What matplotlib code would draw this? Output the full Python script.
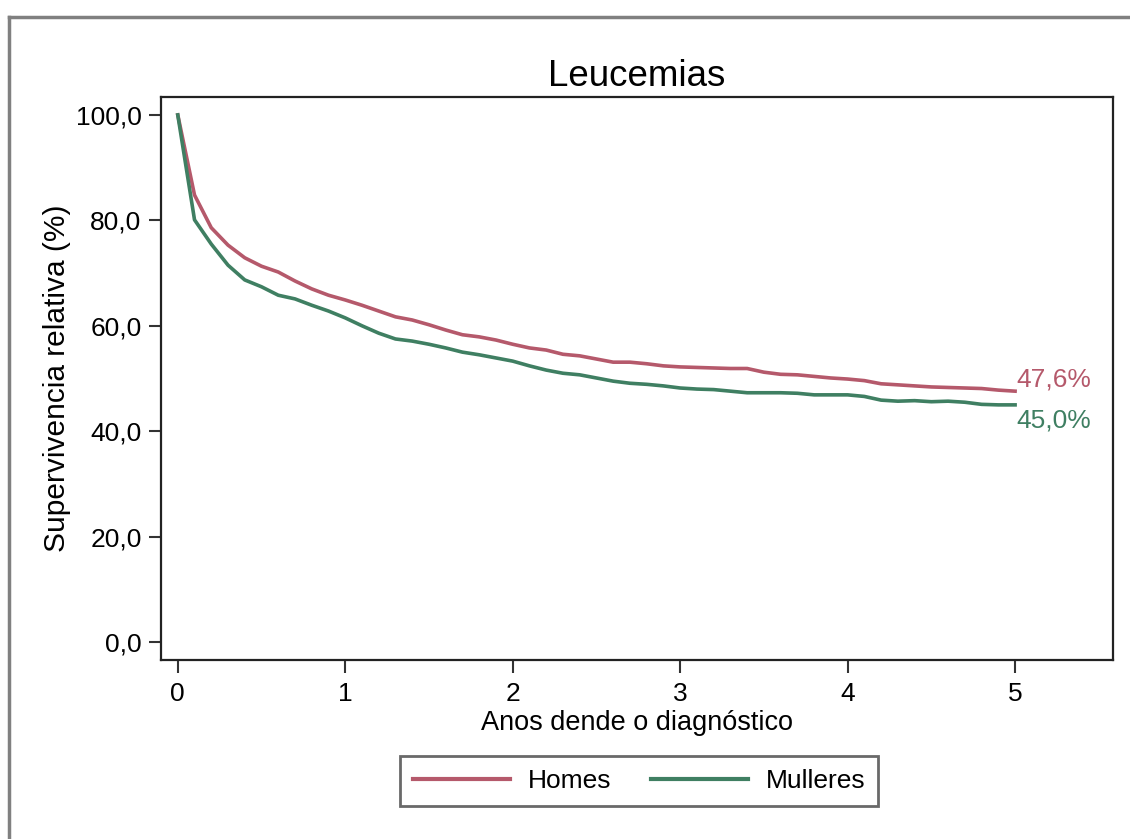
import matplotlib
matplotlib.use("Agg")
import matplotlib.pyplot as plt
from matplotlib.lines import Line2D

plt.rcParams["font.family"] = ["Liberation Sans", "DejaVu Sans"]

# years since diagnosis, 0.1-year steps
years = [i / 10 for i in range(51)]

homes = [100.0, 84.8, 78.6, 75.3, 72.9, 71.3, 70.2, 68.5, 67.0, 65.8,
         64.9, 63.9, 62.8, 61.7, 61.1, 60.2, 59.2, 58.3, 57.9, 57.3,
         56.5, 55.8, 55.4, 54.6, 54.3, 53.7, 53.1, 53.1, 52.8, 52.4,
         52.2, 52.1, 52.0, 51.9, 51.9, 51.2, 50.8, 50.7, 50.4, 50.1,
         49.9, 49.6, 49.0, 48.8, 48.6, 48.4, 48.3, 48.2, 48.1, 47.8,
         47.6]
mulleres = [100.0, 80.1, 75.5, 71.5, 68.7, 67.4, 65.8, 65.1, 63.9, 62.8,
            61.5, 60.0, 58.6, 57.5, 57.1, 56.5, 55.8, 55.0, 54.5, 53.9,
            53.3, 52.4, 51.6, 51.0, 50.7, 50.1, 49.5, 49.1, 48.9, 48.6,
            48.2, 48.0, 47.9, 47.6, 47.3, 47.3, 47.3, 47.2, 46.9, 46.9,
            46.9, 46.6, 45.9, 45.7, 45.8, 45.6, 45.7, 45.5, 45.1, 45.0,
            45.0]

series_names = ["Homes", "Mulleres"]
colors = ["#b5596b", "#3f7f62"]
end_labels = ["47,6%", "45,0%"]

yticks = [0, 20, 40, 60, 80, 100]
xticks = [0, 1, 2, 3, 4, 5]

fs = 19

fig = plt.figure(figsize=(11.3, 8.39), dpi=100)
ax = fig.add_axes([0.1425, 0.2133, 0.8425, 0.6711])

for vals, name, col in zip([homes, mulleres], series_names, colors):
    ax.plot(years, vals, color=col, lw=2.6, label=name)

# labels at the end of each curve
ax.text(5.01, homes[-1] + 2.3, end_labels[0], color=colors[0], fontsize=fs,
        va="center", ha="left")
ax.text(5.01, mulleres[-1] - 3.0, end_labels[1], color=colors[1], fontsize=fs,
        va="center", ha="left")

ax.set_xlim(-0.1, 5.585)
ax.set_ylim(-3.4, 103.4)
ax.set_xticks(xticks)
ax.set_yticks(yticks)
ax.set_yticklabels([f"{v:.1f}".replace(".", ",") for v in yticks])
ax.tick_params(axis="both", labelsize=fs, length=9, width=1.5, color="#333333")
ax.tick_params(axis="x", pad=7)
ax.tick_params(axis="y", pad=5)
for sp in ax.spines.values():
    sp.set_linewidth(1.6)
    sp.set_color("#222222")

ax.set_title("Leucemias", fontsize=26.5, pad=8)
ax.set_xlabel("Anos dende o diagnóstico", fontsize=19.5, labelpad=3)
ax.set_ylabel("Supervivencia relativa (%)", fontsize=21.5, labelpad=3.5)

leg = fig.legend(loc="center", bbox_to_anchor=(639 / 1130, 1 - 781 / 839),
                 ncol=2, fontsize=fs, frameon=True, fancybox=False,
                 handlelength=3.7, columnspacing=1.5, handletextpad=0.65,
                 borderpad=0.5, borderaxespad=0)
leg.get_frame().set_edgecolor("#444444")
leg.get_frame().set_linewidth(2)
for h in leg.get_lines():
    h.set_linewidth(3)

# outer grey frame (left and top edges visible)
fig.add_artist(Line2D([9 / 1130, 9 / 1130], [0, 1 - 17 / 839],
                      transform=fig.transFigure, color="#808080", lw=2.5))
fig.add_artist(Line2D([9 / 1130, 1], [1 - 17 / 839, 1 - 17 / 839],
                      transform=fig.transFigure, color="#808080", lw=2.5))

fig.savefig("out.png", dpi=100)
